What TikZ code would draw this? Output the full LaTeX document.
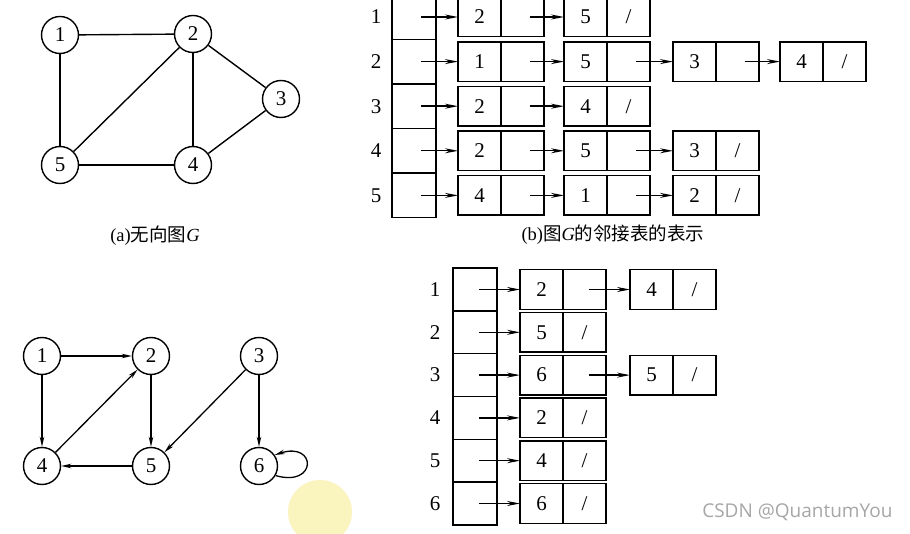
\documentclass[tikz,border=0pt]{standalone}
\usepackage{fontspec}
\setmainfont{Liberation Serif}
\newfontfamily\cjk{Noto Sans CJK SC}
\newfontfamily\wmfont{Open Sans}
\usetikzlibrary{arrows.meta, positioning, calc}
\definecolor{cursorglow}{RGB}{250,244,190}

\begin{document}
\begin{tikzpicture}[
    x=1pt, y=-1pt,
    vtx/.style={circle, draw=black, line width=1.4pt, minimum size=37pt, inner sep=0pt, font=\fontsize{21}{22}\selectfont},
    edge/.style={line width=1.4pt},
    arc/.style={-{Stealth[length=10pt, width=4.5pt]}, line width=1.3pt},
    headcell/.style={rectangle, draw=black, line width=1.4pt, minimum width=44pt, minimum height=44.6pt, outer sep=0pt},
    datacell/.style={rectangle, draw=black, line width=1.4pt, minimum width=43pt, minimum height=39.5pt, outer sep=0pt, inner sep=0pt, font=\fontsize{21}{22}\selectfont},
    link/.style={-{Stealth[length=13pt, width=5pt]}, line width=1.4pt},
    rowlabel/.style={font=\fontsize{21}{22}\selectfont},
    caption/.style={font=\fontsize{18.5}{20}\selectfont},
    watermark/.style={font=\wmfont\fontsize{19}{20}\selectfont, text=gray!70}
]
    \useasboundingbox (0,0) rectangle (910,534);

    % cursor highlight
    \fill[cursorglow] (320,512) circle (32pt);

    % ========== (a) undirected graph G ==========
    \node[vtx] (a1) at (60,35) {1};
    \node[vtx] (a2) at (193,34) {2};
    \node[vtx] (a3) at (281,99) {3};
    \node[vtx] (a4) at (193,165) {4};
    \node[vtx] (a5) at (60,165) {5};

    \draw[edge] (a1) -- (a2);
    \draw[edge] (a1) -- (a5);
    \draw[edge] (a2) -- (a5);
    \draw[edge] (a2) -- (a4);
    \draw[edge] (a2) -- (a3);
    \draw[edge] (a3) -- (a4);
    \draw[edge] (a5) -- (a4);

    \node[caption] (cap_a) at (155,236) {(a){\cjk 无向图}\textit{G}};

    % ========== (b) adjacency list of G ==========
    \node[headcell] (h1) at (414,17) {};
    \node[headcell, below=0pt of h1] (h2) {};
    \node[headcell, below=0pt of h2] (h3) {};
    \node[headcell, below=0pt of h3] (h4) {};
    \node[headcell, below=0pt of h4] (h5) {};

    \node[rowlabel, left=7pt of h1] (hl1) {1};
    \node[rowlabel, left=7pt of h2] (hl2) {2};
    \node[rowlabel, left=7pt of h3] (hl3) {3};
    \node[rowlabel, left=7pt of h4] (hl4) {4};
    \node[rowlabel, left=7pt of h5] (hl5) {5};

    % Row 1: 2 -> 5
    \node[datacell, right=22pt of h1] (b1v1) {2};
    \node[datacell, right=0pt of b1v1] (b1p1) {};
    \node[datacell, right=20pt of b1p1] (b1v2) {5};
    \node[datacell, right=0pt of b1v2] (b1p2) {/};
    \draw[link] ([xshift=7pt]h1.center) -- (b1v1);
    \draw[link] ([xshift=7pt]b1p1.center) -- (b1v2);

    % Row 2: 1 -> 5 -> 3 -> 4
    \node[datacell, right=22pt of h2] (b2v1) {1};
    \node[datacell, right=0pt of b2v1] (b2p1) {};
    \node[datacell, right=20pt of b2p1] (b2v2) {5};
    \node[datacell, right=0pt of b2v2] (b2p2) {};
    \node[datacell, right=23pt of b2p2] (b2v3) {3};
    \node[datacell, right=0pt of b2v3] (b2p3) {};
    \node[datacell, right=21pt of b2p3] (b2v4) {4};
    \node[datacell, right=0pt of b2v4] (b2p4) {/};
    \draw[link] ([xshift=7pt]h2.center) -- (b2v1);
    \draw[link] ([xshift=7pt]b2p1.center) -- (b2v2);
    \draw[link] ([xshift=7pt]b2p2.center) -- (b2v3);
    \draw[link] ([xshift=7pt]b2p3.center) -- (b2v4);

    % Row 3: 2 -> 4
    \node[datacell, right=22pt of h3] (b3v1) {2};
    \node[datacell, right=0pt of b3v1] (b3p1) {};
    \node[datacell, right=20pt of b3p1] (b3v2) {4};
    \node[datacell, right=0pt of b3v2] (b3p2) {/};
    \draw[link] ([xshift=7pt]h3.center) -- (b3v1);
    \draw[link] ([xshift=7pt]b3p1.center) -- (b3v2);

    % Row 4: 2 -> 5 -> 3
    \node[datacell, right=22pt of h4] (b4v1) {2};
    \node[datacell, right=0pt of b4v1] (b4p1) {};
    \node[datacell, right=20pt of b4p1] (b4v2) {5};
    \node[datacell, right=0pt of b4v2] (b4p2) {};
    \node[datacell, right=23pt of b4p2] (b4v3) {3};
    \node[datacell, right=0pt of b4v3] (b4p3) {/};
    \draw[link] ([xshift=7pt]h4.center) -- (b4v1);
    \draw[link] ([xshift=7pt]b4p1.center) -- (b4v2);
    \draw[link] ([xshift=7pt]b4p2.center) -- (b4v3);

    % Row 5: 4 -> 1 -> 2
    \node[datacell, right=22pt of h5] (b5v1) {4};
    \node[datacell, right=0pt of b5v1] (b5p1) {};
    \node[datacell, right=20pt of b5p1] (b5v2) {1};
    \node[datacell, right=0pt of b5v2] (b5p2) {};
    \node[datacell, right=23pt of b5p2] (b5v3) {2};
    \node[datacell, right=0pt of b5v3] (b5p3) {/};
    \draw[link] ([xshift=7pt]h5.center) -- (b5v1);
    \draw[link] ([xshift=7pt]b5p1.center) -- (b5v2);
    \draw[link] ([xshift=7pt]b5p2.center) -- (b5v3);

    \node[caption] (cap_b) at (613,235) {(b){\cjk 图}\textit{G}{\cjk 的邻接表的表示}};

    % ========== (c) directed graph ==========
    \node[vtx] (c1) at (42,356) {1};
    \node[vtx] (c2) at (151,356) {2};
    \node[vtx] (c3) at (259,356) {3};
    \node[vtx] (c4) at (42,466) {4};
    \node[vtx] (c5) at (151,466) {5};
    \node[vtx] (c6) at (259,466) {6};

    \draw[arc] (c1) -- (c2);
    \draw[arc] (c1) -- (c4);
    \draw[arc] (c4) -- (c2);
    \draw[arc] (c2) -- (c5);
    \draw[arc] (c3) -- (c5);
    \draw[arc] (c3) -- (c6);
    \draw[arc] (c5) -- (c4);
    \draw[arc] (c6.-30) .. controls ($(c6.-30)+(42,12)$) and ($(c6.35)+(42,-14)$) .. (c6.35);

    % ========== (d) adjacency list of the directed graph ==========
    \node[headcell, minimum height=42.8pt] (k1) at (475,289.5) {};
    \node[headcell, minimum height=42.8pt, below=0pt of k1] (k2) {};
    \node[headcell, minimum height=42.8pt, below=0pt of k2] (k3) {};
    \node[headcell, minimum height=42.8pt, below=0pt of k3] (k4) {};
    \node[headcell, minimum height=42.8pt, below=0pt of k4] (k5) {};
    \node[headcell, minimum height=42.8pt, below=0pt of k5] (k6) {};

    \node[rowlabel, left=9pt of k1] (kl1) {1};
    \node[rowlabel, left=9pt of k2] (kl2) {2};
    \node[rowlabel, left=9pt of k3] (kl3) {3};
    \node[rowlabel, left=9pt of k4] (kl4) {4};
    \node[rowlabel, left=9pt of k5] (kl5) {5};
    \node[rowlabel, left=9pt of k6] (kl6) {6};

    % Row 1: 2 -> 4
    \node[datacell, right=23pt of k1] (d1v1) {2};
    \node[datacell, right=0pt of d1v1] (d1p1) {};
    \node[datacell, right=24pt of d1p1] (d1v2) {4};
    \node[datacell, right=0pt of d1v2] (d1p2) {/};
    \draw[link] ([xshift=4pt]k1.center) -- (d1v1);
    \draw[link] ([xshift=4pt]d1p1.center) -- (d1v2);

    % Row 2: 5
    \node[datacell, right=23pt of k2] (d2v1) {5};
    \node[datacell, right=0pt of d2v1] (d2p1) {/};
    \draw[link] ([xshift=4pt]k2.center) -- (d2v1);

    % Row 3: 6 -> 5
    \node[datacell, right=23pt of k3] (d3v1) {6};
    \node[datacell, right=0pt of d3v1] (d3p1) {};
    \node[datacell, right=24pt of d3p1] (d3v2) {5};
    \node[datacell, right=0pt of d3v2] (d3p2) {/};
    \draw[link] ([xshift=4pt]k3.center) -- (d3v1);
    \draw[link] ([xshift=4pt]d3p1.center) -- (d3v2);

    % Row 4: 2
    \node[datacell, right=23pt of k4] (d4v1) {2};
    \node[datacell, right=0pt of d4v1] (d4p1) {/};
    \draw[link] ([xshift=4pt]k4.center) -- (d4v1);

    % Row 5: 4
    \node[datacell, right=23pt of k5] (d5v1) {4};
    \node[datacell, right=0pt of d5v1] (d5p1) {/};
    \draw[link] ([xshift=4pt]k5.center) -- (d5v1);

    % Row 6: 6
    \node[datacell, right=23pt of k6] (d6v1) {6};
    \node[datacell, right=0pt of d6v1] (d6p1) {/};
    \draw[link] ([xshift=4pt]k6.center) -- (d6v1);

    \node[watermark, anchor=east] (mark) at (896,512) {CSDN @QuantumYou};

\end{tikzpicture}
\end{document}
